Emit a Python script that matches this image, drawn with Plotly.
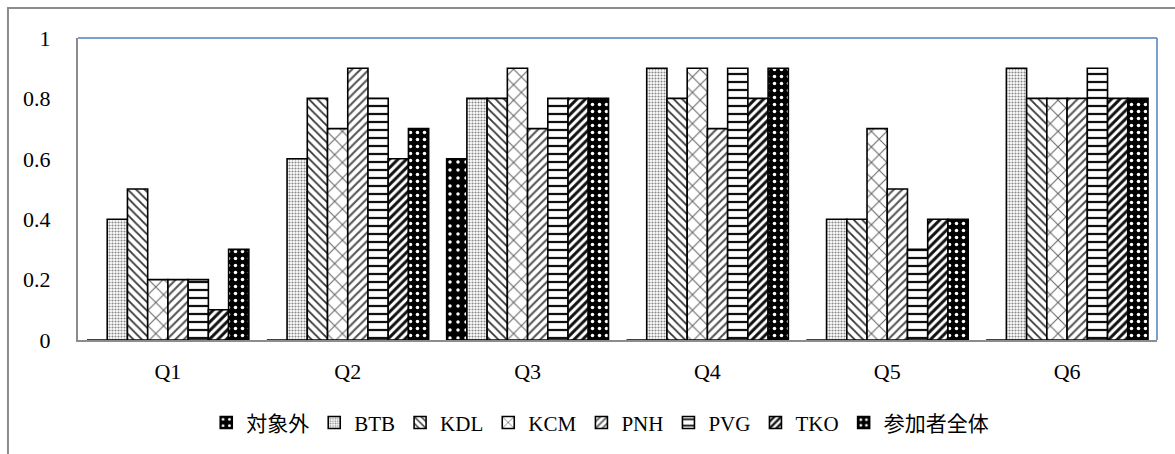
import plotly.graph_objects as go

categories = ["Q1", "Q2", "Q3", "Q4", "Q5", "Q6"]
series_names = ["対象外", "BTB", "KDL", "KCM", "PNH", "PVG", "TKO", "参加者全体"]

taishogai = [0, 0, 0.6, 0, 0, 0]
btb = [0.4, 0.6, 0.8, 0.9, 0.4, 0.9]
kdl = [0.5, 0.8, 0.8, 0.8, 0.4, 0.8]
kcm = [0.2, 0.7, 0.9, 0.9, 0.7, 0.8]
pnh = [0.2, 0.9, 0.7, 0.7, 0.5, 0.8]
pvg = [0.2, 0.8, 0.8, 0.9, 0.3, 0.9]
tko = [0.1, 0.6, 0.8, 0.8, 0.4, 0.8]
zentai = [0.3, 0.7, 0.8, 0.9, 0.4, 0.8]

y_tick_vals = [0, 0.2, 0.4, 0.6, 0.8, 1]
y_tick_text = ["0", "0.2", "0.4", "0.6", "0.8", "1"]

series_values = [taishogai, btb, kdl, kcm, pnh, pvg, tko, zentai]

patterns = [
    dict(shape=".", bgcolor="black", fgcolor="white", size=8, solidity=0.15, fillmode="replace"),
    dict(shape=".", bgcolor="white", fgcolor="#888888", size=3, solidity=0.4, fillmode="replace"),
    dict(shape="\\", bgcolor="white", fgcolor="#333333", size=6, solidity=0.3, fillmode="replace"),
    dict(shape="x", bgcolor="white", fgcolor="#666666", size=11, solidity=0.18, fillmode="replace"),
    dict(shape="/", bgcolor="white", fgcolor="#555555", size=6, solidity=0.35, fillmode="replace"),
    dict(shape="-", bgcolor="white", fgcolor="#111111", size=8, solidity=0.28, fillmode="replace"),
    dict(shape="/", bgcolor="white", fgcolor="#111111", size=6, solidity=0.5, fillmode="replace"),
    dict(shape=".", bgcolor="black", fgcolor="white", size=7, solidity=0.2, fillmode="replace"),
]

font_family = "Liberation Serif, Noto Sans CJK JP, serif"

fig = go.Figure()
for name, vals, pat in zip(series_names, series_values, patterns):
    fig.add_trace(go.Bar(
        name=name, x=categories, y=vals,
        marker=dict(color=pat["bgcolor"], line=dict(color="black", width=1.6), pattern=pat),
    ))

fig.update_layout(
    width=1175, height=454,
    barmode="group", bargap=0.1, bargroupgap=0,
    plot_bgcolor="white", paper_bgcolor="white",
    margin=dict(l=78, r=18, t=38, b=113),
    font=dict(family=font_family, size=22, color="black"),
    legend=dict(orientation="h", x=0.484, xanchor="center", y=-0.27, yanchor="middle",
                font=dict(size=21), itemwidth=30, traceorder="normal"),
    xaxis=dict(showline=True, linecolor="#8c8c8c", linewidth=2, ticks="", ticklabelstandoff=11,
               showgrid=False, tickfont=dict(size=22)),
    yaxis=dict(range=[0, 1], tickvals=y_tick_vals, ticktext=y_tick_text, showgrid=False,
               showline=True, linecolor="#8c8c8c", linewidth=2, ticks="", ticklabelstandoff=21,
               tickfont=dict(size=22), zeroline=False),
    shapes=[
        dict(type="line", xref="paper", yref="paper", x0=0, x1=1, y0=1, y1=1,
             line=dict(color="#4F81BD", width=1.5)),
        dict(type="line", xref="paper", yref="paper", x0=1, x1=1, y0=0, y1=1,
             line=dict(color="#4F81BD", width=1.5)),
        dict(type="rect", xref="paper", yref="paper", x0=-0.0649, x1=1.2, y0=-0.6, y1=1.099,
             line=dict(color="#8c8c8c", width=2), fillcolor="rgba(0,0,0,0)", layer="below"),
    ],
)

fig.write_html("out.html")
